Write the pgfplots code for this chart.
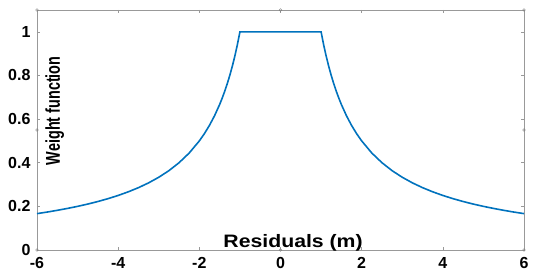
\documentclass[border=0pt]{standalone}
\usepackage{fontspec}
\setmainfont{Liberation Sans}
\usepackage{pgfplots}
\pgfplotsset{compat=1.18}
\definecolor{mblue}{rgb}{0,0.447,0.741}
\definecolor{boxgray}{rgb}{0.6,0.6,0.6}
\begin{document}
\begin{tikzpicture}
\begin{axis}[
  at={(0pt,0pt)}, anchor=south west,
  scale only axis, width=487pt, height=240pt,
  xmin=-6, xmax=6, ymin=0, ymax=1.1,
  xtick={-6,-4,-2,0,2,4,6},
  ytick={0,0.2,0.4,0.6,0.8,1},
  yticklabels={0,0.2,0.4,0.6,0.8,1},
  xticklabels={-6,-4,-2,0,2,4,6},
  tick align=inside, tick pos=both,
  major tick length=3pt,
  axis line style={boxgray, line width=0.6pt},
  tick style={boxgray, line width=0.6pt},
  /pgf/number format/assume math mode=true,
  ticklabel style={font=\fontsize{16}{16}\selectfont\bfseries, text=black},
  xticklabel style={yshift=-4pt},
  yticklabel style={xshift=-3pt},
  clip=false,
]
\addplot[mblue, line width=1.6pt] coordinates {
(-6,0.1667) (-5.75,0.1739) (-5.5,0.1818) (-5.25,0.1905) (-5,0.2)
(-4.75,0.2105) (-4.5,0.2222) (-4.25,0.2353) (-4,0.25) (-3.75,0.2667)
(-3.5,0.2857) (-3.25,0.3077) (-3,0.3333) (-2.75,0.3636) (-2.5,0.4)
(-2.25,0.4444) (-2,0.5) (-1.875,0.5333) (-1.75,0.5714) (-1.625,0.6154)
(-1.5,0.6667) (-1.4375,0.6957) (-1.375,0.7273) (-1.3125,0.7619) (-1.25,0.8)
(-1.1875,0.8421) (-1.125,0.8889) (-1.0625,0.9412) (-1,1)
(1,1) (1.0625,0.9412) (1.125,0.8889) (1.1875,0.8421) (1.25,0.8)
(1.3125,0.7619) (1.375,0.7273) (1.4375,0.6957) (1.5,0.6667) (1.625,0.6154)
(1.75,0.5714) (1.875,0.5333) (2,0.5) (2.25,0.4444) (2.5,0.4)
(2.75,0.3636) (3,0.3333) (3.25,0.3077) (3.5,0.2857) (3.75,0.2667)
(4,0.25) (4.25,0.2353) (4.5,0.2222) (4.75,0.2105) (5,0.2)
(5.25,0.1905) (5.5,0.1818) (5.75,0.1739) (6,0.1667)
};
\addplot[only marks, mark=o, mark size=1.3pt, boxgray!80!black, mark options={line width=0.4pt, fill=white}] coordinates {
(-6,0) (6,0) (-6,1.1) (6,1.1) (0,1.1) (0,0) (-6,0.55) (6,0.55)
};
\node[font=\fontsize{20}{20}\selectfont\bfseries, rotate=90, inner sep=0pt] at (axis cs:-5.56,0.638) {\scalebox{0.72}[1]{Weight function}};
\node[font=\fontsize{18}{18}\selectfont\bfseries, anchor=base, inner sep=0pt] at (axis cs:0.31,0.011) {\scalebox{1.18}[1]{Residuals (m)}};
\end{axis}
\pgfresetboundingbox
\path (-37pt,-25pt) rectangle (501pt,250pt);
\end{tikzpicture}
\end{document}
